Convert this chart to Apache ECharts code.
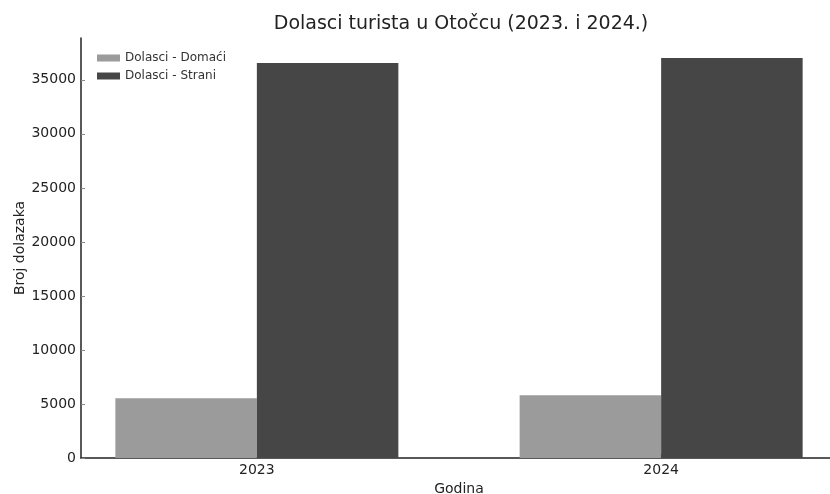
<!DOCTYPE html>
<html>
<head>
<meta charset="utf-8">
<script src="https://cdn.jsdelivr.net/npm/echarts@6/dist/echarts.min.js"></script>
<style>
html,body{margin:0;padding:0;background:#fff;}
#chart{width:830px;height:494px;}
</style>
</head>
<body>
<div id="chart"></div>
<script>
const years = ['2023', '2024'];
const domaci = [5540, 5810];
const strani = [36550, 37020];
const yTicks = [0, 5000, 10000, 15000, 20000, 25000, 30000, 35000];
const seriesNames = ['Dolasci - Domaći', 'Dolasci - Strani'];

const chart = echarts.init(document.getElementById('chart'), null, {renderer: 'canvas'});
const font = 'DejaVu Sans';
const yMax = Math.max(...domaci, ...strani) * 1.05;
const xPos = years.map((_, i) => i);

chart.setOption({
  animation: false,
  backgroundColor: '#ffffff',
  textStyle: {fontFamily: font},
  title: {
    text: 'Dolasci turista u Otočcu (2023. i 2024.)',
    left: 456, top: 10, textAlign: 'center',
    textStyle: {fontFamily: font, fontSize: 19, fontWeight: 'normal', color: '#222'}
  },
  legend: {
    orient: 'vertical', left: 92, top: 47,
    itemWidth: 23, itemHeight: 7, itemGap: 6,
    icon: 'rect',
    textStyle: {fontFamily: font, fontSize: 12, color: '#333'},
    data: seriesNames
  },
  grid: {left: 81, top: 38, width: 756, height: 420, containLabel: false, outerBoundsMode: 'none'},
  xAxis: {
    type: 'value', min: -0.435, max: 1.435,
    name: 'Godina', nameLocation: 'middle', nameGap: 22,
    nameTextStyle: {fontFamily: font, fontSize: 14, color: '#222'},
    axisLine: {show: true, onZero: false, lineStyle: {color: '#222', width: 1.5}},
    axisTick: {show: true, inside: true, customValues: xPos, length: 4, lineStyle: {color: '#444'}},
    axisLabel: {customValues: xPos, formatter: v => years[Math.round(v)] || '', fontFamily: font, fontSize: 14, color: '#222', margin: 5},
    splitLine: {show: false}
  },
  yAxis: {
    type: 'value', min: 0, max: yMax,
    name: 'Broj dolazaka', nameLocation: 'middle', nameGap: 54, nameRotate: 90,
    nameMoveOverlap: false,
    nameTextStyle: {fontFamily: font, fontSize: 14, color: '#222'},
    axisLine: {show: true, onZero: false, lineStyle: {color: '#222', width: 1.5}},
    axisTick: {show: true, inside: true, customValues: yTicks, length: 4, lineStyle: {color: '#888'}},
    axisLabel: {customValues: yTicks, formatter: v => String(v), fontFamily: font, fontSize: 14, color: '#222', margin: 5},
    splitLine: {show: false}
  },
  series: [
    {
      name: seriesNames[0], type: 'bar',
      data: xPos.map((x, i) => [x, domaci[i]]),
      barWidth: 141.5, barGap: '0%',
      itemStyle: {color: '#9b9b9b'}
    },
    {
      name: seriesNames[1], type: 'bar',
      data: xPos.map((x, i) => [x, strani[i]]),
      barWidth: 141.5, barGap: '0%',
      itemStyle: {color: '#464646'}
    }
  ]
});
</script>
</body>
</html>
